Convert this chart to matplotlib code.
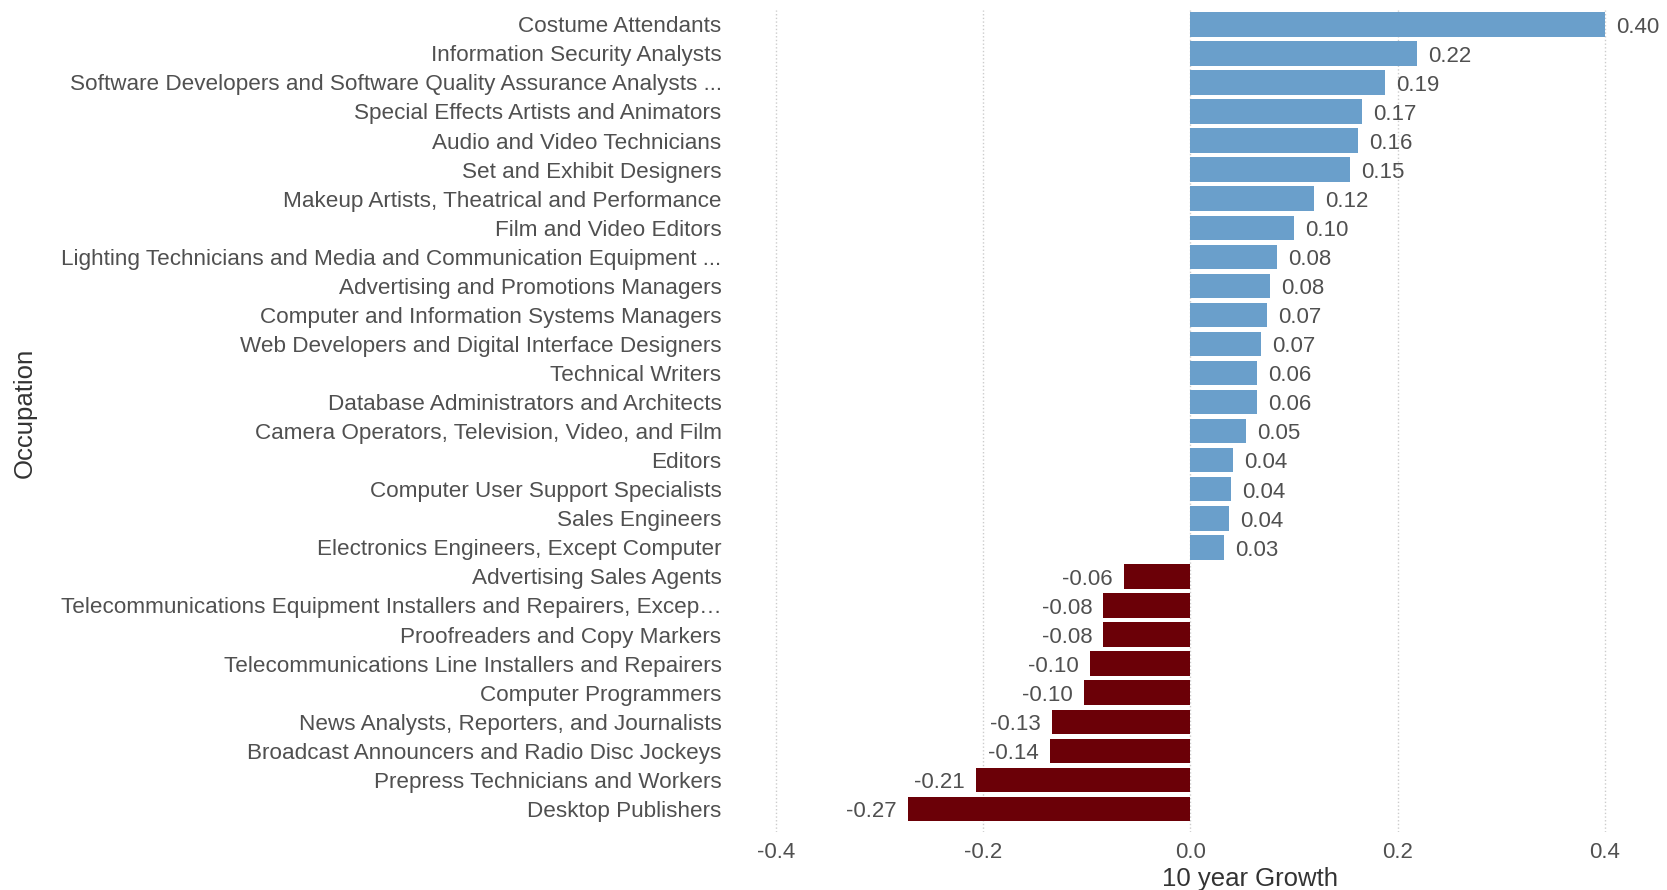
import matplotlib
matplotlib.use("Agg")
import matplotlib.pyplot as plt
import numpy as np

occupations = [
    "Costume Attendants",
    "Information Security Analysts",
    "Software Developers and Software Quality Assurance Analysts ...",
    "Special Effects Artists and Animators",
    "Audio and Video Technicians",
    "Set and Exhibit Designers",
    "Makeup Artists, Theatrical and Performance",
    "Film and Video Editors",
    "Lighting Technicians and Media and Communication Equipment ...",
    "Advertising and Promotions Managers",
    "Computer and Information Systems Managers",
    "Web Developers and Digital Interface Designers",
    "Technical Writers",
    "Database Administrators and Architects",
    "Camera Operators, Television, Video, and Film",
    "Editors",
    "Computer User Support Specialists",
    "Sales Engineers",
    "Electronics Engineers, Except Computer",
    "Advertising Sales Agents",
    "Telecommunications Equipment Installers and Repairers, Excep\u2026",
    "Proofreaders and Copy Markers",
    "Telecommunications Line Installers and Repairers",
    "Computer Programmers",
    "News Analysts, Reporters, and Journalists",
    "Broadcast Announcers and Radio Disc Jockeys",
    "Prepress Technicians and Workers",
    "Desktop Publishers",
]
growth = [0.400, 0.219, 0.188, 0.166, 0.162, 0.154, 0.119, 0.100, 0.084, 0.077,
          0.074, 0.068, 0.064, 0.064, 0.054, 0.041, 0.039, 0.037, 0.032,
          -0.064, -0.084, -0.084, -0.097, -0.103, -0.134, -0.136, -0.207, -0.273]
xticks = [-0.4, -0.2, 0.0, 0.2, 0.4]

plt.rcParams['font.family'] = ['Liberation Sans', 'DejaVu Sans']
txt = '#505050'

fig = plt.figure(figsize=(16.67, 8.9), dpi=100)
ax = fig.add_axes([0.447, 0.065, 0.543, 0.924])

pos = np.arange(len(occupations))
colors = ['#6a9fcb' if g >= 0 else '#6b0007' for g in growth]
ax.barh(pos, growth, height=0.84, color=colors, zorder=2)

# value labels just past the end of each bar
for y, g in zip(pos, growth):
    if g >= 0:
        ax.annotate('%.2f' % g, (g, y), xytext=(8, -2), textcoords='offset points',
                    ha='left', va='center', fontsize=16, color=txt)
    else:
        ax.annotate('%.2f' % g, (g, y), xytext=(-8, -2), textcoords='offset points',
                    ha='right', va='center', fontsize=16, color=txt)

ax.set_xlim(-0.43, 0.444)
ax.set_ylim(len(occupations) - 0.2, -0.5)
ax.set_yticks(pos)
ax.set_yticklabels(occupations)
ax.set_xticks(xticks)
ax.set_xticklabels(['%.1f' % t for t in xticks])
ax.tick_params(axis='y', length=0, pad=17, labelsize=16.2, labelcolor=txt)
ax.tick_params(axis='x', length=0, pad=7, labelsize=16, labelcolor=txt)

for t in xticks:
    ax.axvline(t, color='#cccccc', linestyle=':', linewidth=1, zorder=0)

for s in ax.spines.values():
    s.set_visible(False)

ax.set_xlabel('10 year Growth', fontsize=18.5, color='#333333')
ax.xaxis.set_label_coords(0.558, -0.042)
ax.set_ylabel('Occupation', fontsize=18.5, color='#333333')
ax.yaxis.set_label_coords(-0.783, 0.51)

fig.savefig('out.png', dpi=100)
